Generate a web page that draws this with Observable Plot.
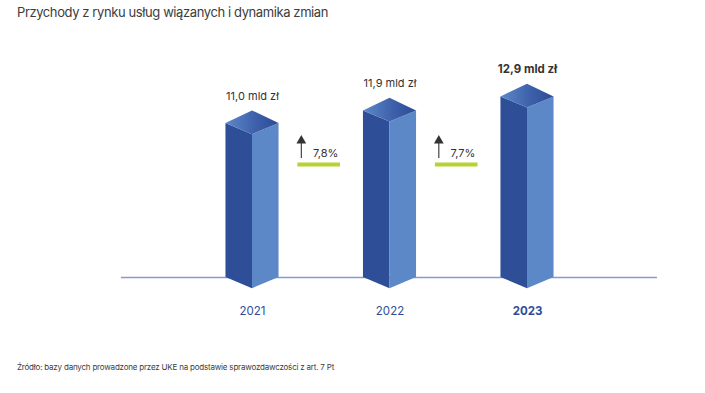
<!DOCTYPE html>
<html>
<head>
<meta charset="utf-8">
<script src="https://cdn.jsdelivr.net/npm/d3@7"></script>
<script src="https://cdn.jsdelivr.net/npm/@observablehq/plot@0.6"></script>
<style>
  html, body { margin: 0; padding: 0; background: #fff; }
  body { width: 705px; height: 393px; overflow: hidden; font-family: Inter, "Open Sans", sans-serif; }
  #title { height: 24px; line-height: 24px; padding-left: 17px; font-size: 13px; color: #3c3c3c; letter-spacing: -0.4px; }
  #caption { margin-top: 6px; line-height: 14px; padding-left: 17px; font-size: 8px; color: #3c3c3c; letter-spacing: -0.2px; }
</style>
</head>
<body>
<div id="title">Przychody z rynku usług wiązanych i dynamika zmian</div>
<div id="chart"></div>
<div id="caption">Źródło: bazy danych prowadzone przez UKE na podstawie sprawozdawczości z art. 7 Pt</div>
<script>
// ---- data ----
const years = [2021, 2022, 2023];
const revenue = [11.0, 11.9, 12.9];            // mld zł
const revenueLabels = ["11,0 mld zł", "11,9 mld zł", "12,9 mld zł"];
const growthLabels = ["7,8%", "7,7%"];          // change 2021→2022, 2022→2023

// ---- geometry (in scale units) ----
const hw = 0.193;     // half width of the prism
const dF = 0.8;       // front depth (y units)
const dB = 0.9;       // back depth (y units)

const bars = years.map((yr, i) => ({year: yr, value: revenue[i], label: revenueLabels[i], bold: i === years.length - 1}));

const leftFace = bars.flatMap(b => [
  {k: b.year, x: b.year - hw, y1: 0, y2: b.value},
  {k: b.year, x: b.year, y1: -dF, y2: b.value - dF}
]);
const rightFace = bars.flatMap(b => [
  {k: b.year, x: b.year, y1: -dF, y2: b.value - dF},
  {k: b.year, x: b.year + hw, y1: 0, y2: b.value}
]);
const cap = bars.flatMap(b => [
  {k: b.year, x: b.year - hw, y1: b.value, y2: b.value},
  {k: b.year, x: b.year, y1: b.value - dF, y2: b.value + dB},
  {k: b.year, x: b.year + hw, y1: b.value, y2: b.value}
]);

const growth = growthLabels.map((g, i) => ({year: years[i], label: g}));

const plot = Plot.plot({
  width: 705,
  height: 330,
  margin: 0,
  x: {domain: [2019.1673, 2024.2945], axis: null},
  y: {domain: [-5.5, 18.071], axis: null},
  style: {background: "#fff", fontFamily: "Inter, 'Open Sans', sans-serif"},
  marks: [
    Plot.ruleY([0], {x1: years[0] - 0.953, x2: years[years.length - 1] + 0.945, stroke: "#8699d2", strokeWidth: 1.5}),
    Plot.areaY(leftFace, {x: "x", y1: "y1", y2: "y2", z: "k", fill: "#2e4e98"}),
    Plot.areaY(rightFace, {x: "x", y1: "y1", y2: "y2", z: "k", fill: "#5c88c8"}),
    Plot.areaY(cap, {x: "x", y1: "y1", y2: "y2", z: "k", fill: "url(#capGrad)"}),
    Plot.text(bars.filter(d => !d.bold), {x: "year", y: "value", text: "label", dy: -27, fontSize: 11, fill: "#333", letterSpacing: -0.4}),
    Plot.text(bars.filter(d => d.bold), {x: "year", y: "value", text: "label", dy: -28, fontSize: 11.5, fontWeight: "bold", fill: "#333", letterSpacing: -0.4}),
    Plot.text(bars.filter(d => !d.bold), {x: "year", y: 0, text: d => String(d.year), dy: 34, fontSize: 11.5, fill: "#2e4e98"}),
    Plot.text(bars.filter(d => d.bold), {x: "year", y: 0, text: d => String(d.year), dy: 34, fontSize: 11.5, fontWeight: "bold", fill: "#2e4e98"}),
    // growth markers
    Plot.ruleY(growth, {x1: d => d.year + 0.33, x2: d => d.year + 0.64, y: 8.07, stroke: "#b5d335", strokeWidth: 4}),
    Plot.ruleX(growth, {x: d => d.year + 0.355, y1: 8.5, y2: 9.7, stroke: "#333", strokeWidth: 1.1}),
    Plot.dot(growth, {x: d => d.year + 0.355, y: 9.78, symbol: "triangle", r: 3.6, fill: "#333", stroke: "none"}),
    Plot.text(growth, {x: d => d.year + 0.44, y: 8.85, text: "label", textAnchor: "start", fontSize: 11, fill: "#333", letterSpacing: -0.3})
  ]
});

const defs = d3.select(plot).insert("defs", ":first-child");
const g = defs.append("linearGradient").attr("id", "capGrad").attr("x1", "0").attr("x2", "1").attr("y1", "0").attr("y2", "0");
g.append("stop").attr("offset", "0").attr("stop-color", "#5d89c9");
g.append("stop").attr("offset", "0.55").attr("stop-color", "#3e61ab");
g.append("stop").attr("offset", "1").attr("stop-color", "#2c4b96");

document.getElementById("chart").appendChild(plot);
</script>
</body>
</html>
